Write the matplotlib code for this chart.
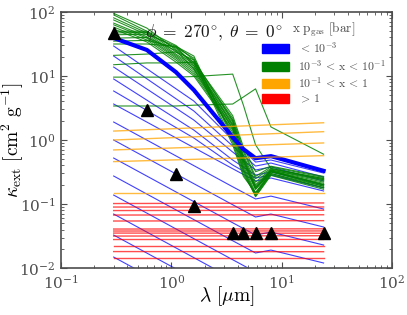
import numpy as np
import matplotlib
matplotlib.use("Agg")
import matplotlib.pyplot as plt
from matplotlib.patches import Patch

plt.rcParams['mathtext.fontset'] = 'cm'
plt.rcParams['font.family'] = ['DejaVu Serif']

# wavelength grids [micron]
wl_full = [0.3, 0.6, 1.1, 1.6, 3.6, 4.5, 5.8, 8.0, 24.0]
wl_blue = [0.3, 1.6, 3.6, 5.8, 8.0, 24.0]
wl_flat = [0.3, 24.0]

# thick blue band (many overlapping low-pressure layers)
blue_thick = [39.3, 25.5, 11.5, 6.04, 1.11, 0.72, 0.52, 0.56, 0.33]

# thin blue lines (p < 1e-3 bar), on wl_blue
blue_lines = [
    [29.4, 4.06, 1.0, 0.453, 0.487, 0.305],
    [20.5, 2.84, 0.806, 0.392, 0.437, 0.264],
    [13.8, 2.05, 0.649, 0.340, 0.379, 0.229],
    [8.98, 1.43, 0.487, 0.284, 0.316, 0.198],
    [5.83, 1.075, 0.407, 0.255, 0.284, 0.178],
    [3.65, 0.76, 0.356, 0.229, 0.255, 0.160],
    [1.91, 0.398, 0.186, 0.120, 0.133, 0.0836],
    [1.0, 0.208, 0.0975, 0.0627, 0.0698, 0.0438],
    [0.523, 0.109, 0.051, 0.0328, 0.0365, 0.0229],
    [0.274, 0.0571, 0.0267, 0.0172, 0.0191, 0.0120],
    [0.138, 0.0288, 0.0135, 0.00866, 0.00964, 0.00605],
    [0.0698, 0.01455, 0.0068, 0.00438, 0.00487, 0.00306],
    [0.0328, 0.00684, 0.0032, 0.00206, 0.00229, 0.00144],
    [0.01486, 0.0031, 0.00145, 0.00093, 0.00104, 0.00065],
]

# green lines (1e-3 < p < 1e-1 bar), on wl_full
green_lines = [
    [95, 56, 25.5, 16.5, 2.4, 0.78, 0.32, 0.39, 0.27],
    [90, 50, 23.7, 15.4, 2.2, 0.70, 0.27, 0.38, 0.26],
    [81, 47, 22, 14.3, 2.05, 0.65, 0.25, 0.36, 0.25],
    [75, 44, 21, 13.3, 1.9, 0.58, 0.22, 0.35, 0.25],
    [67, 41, 20, 12.4, 1.78, 0.54, 0.20, 0.34, 0.24],
    [63, 39, 19, 11.5, 1.65, 0.49, 0.19, 0.34, 0.23],
    [58, 36.5, 17.8, 10.7, 1.54, 0.45, 0.18, 0.33, 0.22],
    [54, 34, 16.5, 10, 1.43, 0.42, 0.17, 0.32, 0.21],
    [50, 50, 30, 17.8, 2.0, 0.52, 0.18, 0.33, 0.20],
    [47, 48, 27, 16, 1.7, 0.47, 0.17, 0.32, 0.20],
    [44, 45, 29, 14.5, 1.5, 0.39, 0.15, 0.30, 0.19],
    [39, 40, 25, 13, 1.3, 0.36, 0.14, 0.30, 0.18],
    [35, 36, 28, 19, 1.15, 0.34, 0.133, 0.29, 0.18],
    [31.6, 31.6, 29, 20.5, 1.04, 0.32, 0.13, 0.28, 0.17],
    [21, 22, 23.7, 17.8, 0.93, 0.29, 0.14, 0.32, 0.19],
    [15, 16, 16, 16.5, 0.84, 0.27, 0.15, 0.33, 0.20],
    [9.6, 9.6, 9.6, 9.8, 10.7, 3.5, 0.84, 0.36, 0.24],
    [3.4, 3.4, 3.4, 3.5, 3.65, 4.7, 6.3, 1.6, 0.60],
]

# orange lines (1e-1 < p < 1 bar), on wl_flat
orange_lines = [
    [1.38, 1.86],
    [1.0, 1.35],
    [0.70, 0.90],
    [0.46, 0.57],
    [0.149, 0.149],
]

# red lines (p > 1 bar), on wl_flat
red_lines = [
    [0.1018, 0.104],
    [0.0898, 0.090],
    [0.0791, 0.080],
    [0.0673, 0.068],
    [0.0543, 0.055],
    [0.0407, 0.041],
    [0.0379, 0.038],
    [0.0352, 0.035],
    [0.0316, 0.032],
    [0.0279, 0.028],
    [0.0225, 0.0225],
    [0.0181, 0.018],
    [0.0143, 0.0143],
]

# black triangles (photometric bands)
tri_wl = [0.3, 0.6, 1.1, 1.6, 3.6, 4.5, 5.8, 8.0, 24.0]
tri_kappa = [47, 2.97, 0.294, 0.093, 0.0356, 0.0356, 0.0356, 0.0356, 0.0352]

legend_labels = [r'$<\,10^{-3}$', r'$10^{-3}\,<\,\mathrm{x}\,<\,10^{-1}$',
                 r'$10^{-1}\,<\,\mathrm{x}\,<\,1$', r'$>\,1$']
legend_colors = ['blue', 'green', 'orange', 'red']

fig = plt.figure(figsize=(4.07, 3.15), dpi=100)
ax = fig.add_axes([0.150, 0.149, 0.813, 0.813])
ax.set_xscale('log')
ax.set_yscale('log')

for ln in blue_lines:
    ax.plot(wl_blue, ln, color='blue', lw=0.8, alpha=0.75)
for ln in green_lines:
    ax.plot(wl_full, ln, color='green', lw=0.8, alpha=0.85)
ax.plot(wl_full, blue_thick, color='blue', lw=3.0)
for ln in orange_lines:
    ax.plot(wl_flat, ln, color='orange', lw=1.0, alpha=0.75)
for ln in red_lines:
    ax.plot(wl_flat, ln, color='red', lw=1.0, alpha=0.7)

ax.plot(tri_wl, tri_kappa, linestyle='none', marker='^', color='black',
        markersize=8, zorder=10)

ax.set_xlim(0.1, 100)
ax.set_ylim(0.01, 100)

ax.text(0.58, 47, r'$\phi\;=\;270^{\circ},\;\theta\;=\;0^{\circ}$', fontsize=12.5,
        va='center', ha='left', color='0.1')

handles = [Patch(facecolor=c, edgecolor=c) for c in legend_colors]
leg = ax.legend(handles, legend_labels, title=r'$\mathrm{x\ p_{gas}\ [bar]}$',
                loc='upper left', bbox_to_anchor=(0.607, 0.967), frameon=False,
                fontsize=8.5, title_fontsize=9.5, handlelength=2.3,
                handleheight=0.8, handletextpad=0.75, labelspacing=0.2,
                borderaxespad=0, borderpad=0)
for t in leg.get_texts():
    t.set_color('0.3')
leg.get_title().set_color('0.3')

ax.set_xlabel(r'$\lambda\ [\mu\mathrm{m}]$', fontsize=14)
ax.set_ylabel(r'$\kappa_{\rm ext}\ [\mathrm{cm}^2\ \mathrm{g}^{-1}]$', fontsize=14)
ax.xaxis.set_label_coords(0.5, -0.062)
ax.yaxis.set_label_coords(-0.105, 0.5)

for sp in ax.spines.values():
    sp.set_color('0.3')
    sp.set_linewidth(1.2)
ax.tick_params(which='both', direction='in', top=True, right=True,
               colors='0.3', labelcolor='0.3', labelsize=11)
ax.tick_params(which='major', length=4, pad=4)
ax.tick_params(which='minor', length=2)

fig.savefig('out.png', dpi=100)
